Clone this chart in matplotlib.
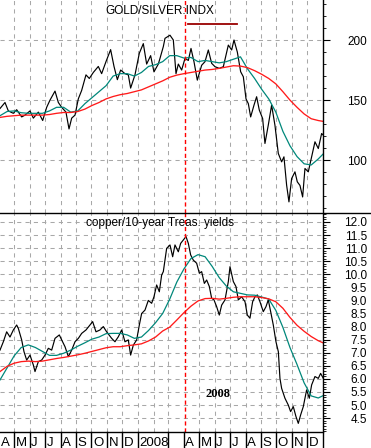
import matplotlib
matplotlib.use("Agg")
import matplotlib.pyplot as plt
import matplotlib.transforms as mtransforms
from matplotlib.lines import Line2D
from matplotlib.ticker import MultipleLocator, FixedLocator, FormatStrFormatter
import pandas as pd

plt.rcParams['font.family'] = ['Liberation Sans', 'DejaVu Sans']

# ---------------- data ----------------
start_date = pd.Timestamp("2007-04-03")

# GOLD/SILVER index: sample day (days after start_date) and value
gold_silver_days = [
    0, 9.9, 16.5, 26.4, 33, 42.9, 49.5, 59.4, 66, 75.9,
    84.5, 92.4, 99, 108.9, 115.5, 122.1, 130.6, 136.6, 141.9, 148.5,
    155, 161.6, 170.2, 176.8, 184.7, 194.6, 201.2, 209.8, 219, 225.7,
    232.3, 238.8, 247.4, 254, 258.6, 267.2, 275.8, 283.7, 290.3, 298.2,
    304.8, 313.4, 316.7, 323.3, 326.6, 336.5, 343.1, 348.4, 353, 359.6,
    366.2, 372.8, 378.1, 384, 390.6, 399.2, 405.8, 412.4, 419, 425.6,
    434.1, 442.1, 452, 458.6, 463.2, 469.8, 476.4, 481.7, 487, 491.6,
    496.2, 502.8, 508, 513.3, 519.9, 524.5, 531.1, 537.7, 544.3, 550.9,
    557.5, 562.1, 567.4, 572, 577.3, 583.9, 588.5, 593.8, 599.1, 603.7,
    610.3, 616.9, 623.5, 630.1, 636.7, 640]
gold_silver = [
    143, 148, 141, 139, 142, 136, 137.5, 141, 135, 140,
    133, 144, 150, 157.5, 148, 144, 140, 126, 135, 137.5,
    151, 158, 171, 168, 173, 178, 172, 182, 192, 178,
    167, 175, 172, 171, 160, 171, 189, 197, 180, 187,
    173.5, 180, 184.7, 194.5, 201.4, 204, 200, 172, 180, 175,
    184.7, 183, 193, 182, 166.6, 179, 182, 191.7, 180.6, 177.8,
    176.4, 177.8, 195.8, 191.7, 200, 190, 173.6, 169.4, 151, 147,
    136, 145.8, 152.8, 141.7, 134.7, 113.9, 129.2, 145.8, 129, 105.6,
    98.6, 102.8, 79.2, 65.3, 84.7, 90.3, 82, 79, 69.4, 93.1,
    90.3, 102.8, 115.3, 109.7, 122.2, 120.8]

# moving averages sampled every two weeks
ma_dates = pd.date_range("2007-04-03", periods=47, freq="14D")
gold_silver_ma50 = [
    137, 140.5, 141, 139.5, 139, 139, 139, 141, 144, 144,
    140, 141, 147, 152, 157, 162, 170, 172, 172, 170,
    173, 178, 179.5, 182, 187, 187, 185, 185.5, 182, 183,
    182, 181, 182, 184, 186, 176, 168, 159, 151, 140,
    124, 112, 103, 97, 96, 101, 107]
gold_silver_ma200 = [
    135.6, 136.5, 137, 137.5, 137.5, 137.5, 137.5, 138, 139, 139.7,
    139.7, 140.5, 142.5, 145.5, 148, 151, 153, 154.5, 155.5, 157,
    158.5, 161, 163.5, 166, 169, 170.8, 172, 173, 174, 175,
    175.5, 176.4, 177.5, 178.6, 178.3, 177, 174.5, 171.5, 168, 163.5,
    157, 150, 144, 138.5, 134.5, 133, 132]

# copper / 10-year Treasury yields
copper_yield_days = [
    0, 6.6, 13.2, 19.8, 26.4, 33, 36.3, 42.9, 47.5, 52.8,
    59.4, 66, 69.3, 75.9, 82.5, 89.1, 95.7, 102.3, 108.9, 117.4,
    122.1, 128.7, 135.3, 141.9, 148.5, 155.1, 161.7, 170.2, 178.1, 183.4,
    190, 197.9, 204.5, 211.1, 221, 227.6, 234.2, 240.8, 247.4, 254,
    258.6, 263.9, 270.5, 275.8, 280.4, 287, 293.6, 300.2, 304.8, 310.1,
    315.4, 320, 323.3, 329.9, 336.5, 341.8, 346.4, 353, 357.6, 362.9,
    368.2, 372.8, 377.4, 382.7, 389.3, 394.6, 399.2, 404.5, 409.1, 414.4,
    419, 423.6, 428.9, 434.1, 438.8, 445.4, 452, 455.3, 461.9, 467.1,
    471.8, 478.3, 485, 489.6, 494.8, 500.1, 504.7, 509.4, 514.6, 521.2,
    526.5, 531.1, 535.8, 541, 546.3, 551, 554.2, 557.5, 564.1, 570.7,
    575.3, 580.6, 585.9, 590.5, 595.1, 600.4, 607, 612.3, 616.9, 623.5,
    630.1, 634.7, 640]
copper_yield = [
    7.1, 7.42, 7.8, 7.6, 7.87, 8.06, 7.93, 7.49, 7.04, 6.72,
    6.91, 6.53, 6.28, 6.66, 6.72, 6.91, 7.17, 7.1, 7.55, 7.68,
    7.49, 7.23, 6.85, 7.1, 7.42, 7.55, 7.74, 7.87, 8.06, 8.19,
    7.8, 7.87, 8.0, 7.8, 7.55, 7.42, 7.61, 7.87, 7.42, 7.49,
    6.91, 7.29, 7.49, 8.06, 8.5, 8.63, 9.0, 8.89, 9.14, 9.59,
    9.33, 9.97, 10.1, 10.99, 11.12, 10.67, 11.12, 10.86, 11.18, 11.31,
    11.44, 11.18, 10.74, 10.54, 10.42, 10.04, 10.1, 9.65, 9.78, 9.53,
    9.08, 9.02, 8.76, 8.44, 8.82, 9.02, 9.72, 10.29, 9.72, 9.53,
    9.02, 9.14, 8.95, 8.44, 8.32, 8.95, 9.14, 9.21, 8.95, 8.57,
    8.76, 9.02, 8.57, 8.06, 7.42, 7.04, 6.02, 5.64, 5.26, 5.0,
    4.75, 4.94, 4.56, 4.3, 4.62, 4.94, 5.58, 5.26, 5.77, 6.09,
    6.02, 6.21, 6.02]
copper_yield_ma50 = [
    5.96, 6.42, 6.88, 7.2, 7.3, 7.2, 7.05, 6.9, 6.9, 6.98,
    7.1, 7.25, 7.38, 7.52, 7.6, 7.73, 7.74, 7.74, 7.68, 7.55,
    7.6, 7.85, 8.15, 8.5, 9.05, 9.7, 10.2, 10.6, 10.75, 10.67,
    10.3, 9.87, 9.55, 9.33, 9.27, 9.21, 9.2, 9.13, 9.05, 8.62,
    7.97, 7.2, 6.55, 5.85, 5.35, 5.27, 5.4]
copper_yield_ma200 = [
    6.28, 6.48, 6.6, 6.66, 6.68, 6.66, 6.68, 6.73, 6.78, 6.82,
    6.87, 6.92, 6.98, 7.05, 7.12, 7.19, 7.23, 7.23, 7.27, 7.3,
    7.34, 7.45, 7.6, 7.83, 7.98, 8.25, 8.53, 8.78, 8.98, 9.07,
    9.08, 9.05, 9.08, 9.12, 9.14, 9.14, 9.14, 9.11, 9.06, 8.95,
    8.7, 8.35, 8.05, 7.82, 7.62, 7.46, 7.34]

month_starts = pd.date_range("2007-04-01", "2008-12-01", freq="MS")
month_labels = ["A", "M", "J", "J", "A", "S", "O", "N", "D", "2008", "", "",
                "A", "M", "J", "J", "A", "S", "O", "N", "D"]
separator_skip = [pd.Timestamp("2008-02-01")]
grid_skip = [pd.Timestamp("2008-04-01")]
event_date = pd.Timestamp("2008-04-04")
annot_start, annot_end, annot_level = pd.Timestamp("2008-04-09"), pd.Timestamp("2008-07-15"), 213

top_ticks = [100, 150, 200]
bottom_ticks = [4.5, 5.0, 5.5, 6.0, 6.5, 7.0, 7.5, 8.0, 8.5, 9.0, 9.5, 10.0,
                10.5, 11.0, 11.5, 12.0]

top_title = "GOLD/SILVER:INDX"
bottom_title = "copper/10-year Treas. yields"
year_note = "2008"

gold_silver_dates = start_date + pd.to_timedelta(gold_silver_days, unit="D")
copper_yield_dates = start_date + pd.to_timedelta(copper_yield_days, unit="D")

# ---------------- layout ----------------
W, H = 371, 448
x_axis = 323.3
y_split = 213.3
y_bottom = 432.0

fig = plt.figure(figsize=(W / 100, H / 100), dpi=100)
ax1 = fig.add_axes([0, 1 - y_split / H, x_axis / W, y_split / H])
ax2 = fig.add_axes([0, 1 - y_bottom / H, x_axis / W, (y_bottom - y_split) / H])

xlim = (start_date, pd.Timestamp("2009-01-02"))
TEAL = "#00877a"
RED = "#ff1a1a"
GRID = "#a8a8a8"

for ax in (ax1, ax2):
    ax.set_xlim(*xlim)
    for s in ("left", "top", "bottom", "right"):
        ax.spines[s].set_visible(False)
    ax.set_xticks([])
    for d in month_starts:
        if d in grid_skip or d <= xlim[0]:
            continue
        ax.axvline(d, color=GRID, lw=0.75, ls=(0, (4, 4)), zorder=1)
    ax.axvline(event_date, color="red", lw=1.0, ls=(0, (3, 2)), zorder=4)
    ax.yaxis.tick_right()
    ax.tick_params(axis="y", which="major", direction="out", length=5, width=0.8,
                   pad=26.5, labelsize=8.5, colors="black")
    ax.tick_params(axis="y", which="minor", direction="out", length=2.5, width=0.6)

# top panel
ax1.set_ylim(55.8, 233.3)
ax1.yaxis.set_major_locator(FixedLocator(top_ticks))
ax1.yaxis.set_minor_locator(MultipleLocator(10))
for v in top_ticks:
    ax1.axhline(v, color=GRID, lw=0.75, ls=(0, (4, 4)), zorder=1)
ax1.plot(gold_silver_dates, gold_silver, color="black", lw=0.85, zorder=3)
ax1.plot(ma_dates, gold_silver_ma50, color=TEAL, lw=0.9, zorder=3)
ax1.plot(ma_dates, gold_silver_ma200, color=RED, lw=0.95, zorder=3)
ax1.plot([annot_start, annot_end], [annot_level, annot_level], color="#990000", lw=1.3)
ax1.text(0.495, 0.948, top_title, transform=ax1.transAxes, ha="center", va="center",
         fontsize=8.5)

# bottom panel
ax2.set_ylim(3.97, 12.33)
ax2.yaxis.set_major_locator(FixedLocator(bottom_ticks))
ax2.yaxis.set_minor_locator(MultipleLocator(0.1))
ax2.yaxis.set_major_formatter(FormatStrFormatter("%.1f"))
for v in bottom_ticks:
    ax2.axhline(v, color=GRID, lw=0.75, ls=(0, (4, 4)), zorder=1)
ax2.plot(copper_yield_dates, copper_yield, color="black", lw=0.85, zorder=3)
ax2.plot(ma_dates, copper_yield_ma50, color=TEAL, lw=0.9, zorder=3)
ax2.plot(ma_dates, copper_yield_ma200, color=RED, lw=0.95, zorder=3)
ax2.text(0.495, 0.956, bottom_title, transform=ax2.transAxes, ha="center", va="center",
         fontsize=8.5)
ax2.text(0.674, 0.174, year_note, transform=ax2.transAxes, ha="center", va="center",
         fontsize=9, fontweight="bold", family=["Liberation Serif", "DejaVu Serif"])
for lab in list(ax1.get_yticklabels()) + list(ax2.get_yticklabels()):
    lab.set_horizontalalignment("right")

# month label row
row_h = (H - y_bottom) / (y_bottom - y_split)
trans = mtransforms.blended_transform_factory(ax2.transData, ax2.transAxes)
for d, lab in zip(month_starts, month_labels):
    if d not in separator_skip:
        ax2.add_line(Line2D([d, d], [0, -row_h], transform=trans, color="black",
                            lw=1.0, clip_on=False))
    if lab:
        ax2.text(d + pd.Timedelta(days=3), -(446 - y_bottom) / (y_bottom - y_split), lab,
                 transform=trans, ha="left", va="baseline", fontsize=9.5, clip_on=False)

# frame lines in figure coordinates
fig.add_artist(Line2D([0, 1], [1 - y_split / H] * 2, color="black", lw=1.0))
fig.add_artist(Line2D([0, x_axis / W], [1 - y_bottom / H] * 2, color="black", lw=1.0))
fig.add_artist(Line2D([x_axis / W] * 2, [0, 1], color="black", lw=1.0))

fig.savefig("out.png", dpi=100)
